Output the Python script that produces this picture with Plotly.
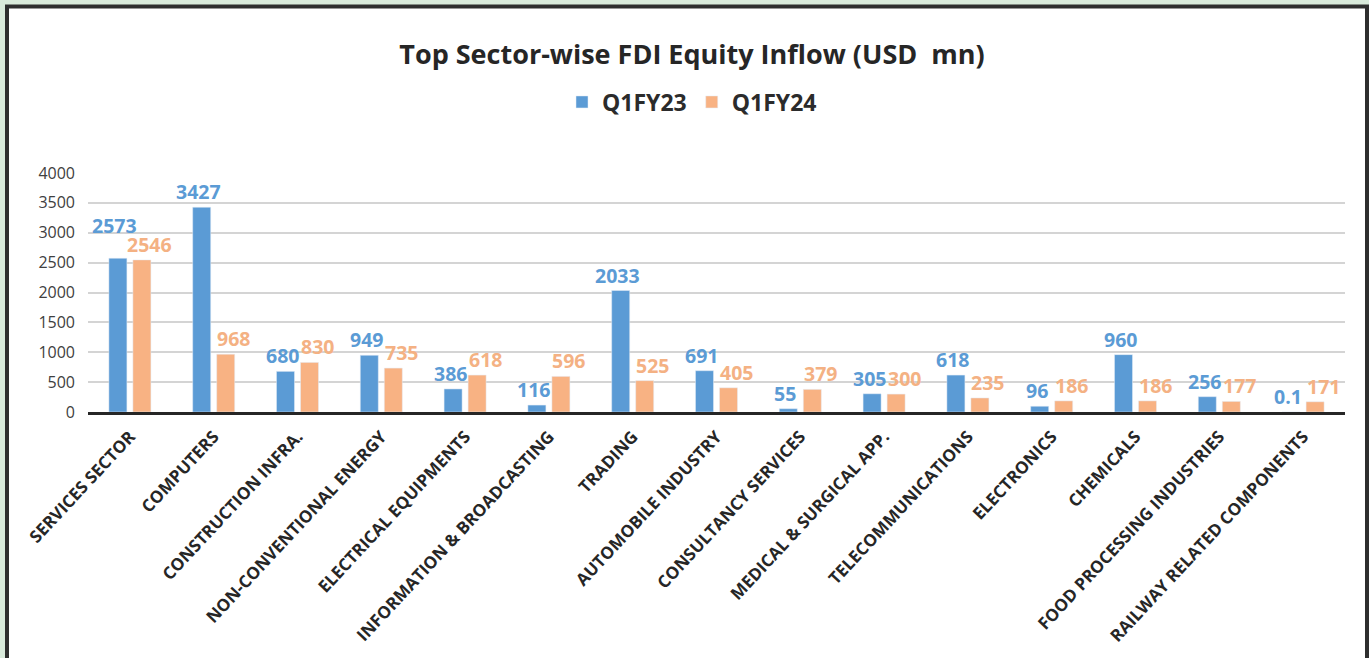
import plotly.graph_objects as go

categories = ["SERVICES SECTOR", "COMPUTERS", "CONSTRUCTION INFRA.", "NON-CONVENTIONAL ENERGY",
              "ELECTRICAL EQUIPMENTS", "INFORMATION & BROADCASTING", "TRADING", "AUTOMOBILE INDUSTRY",
              "CONSULTANCY SERVICES", "MEDICAL & SURGICAL APP.", "TELECOMMUNICATIONS", "ELECTRONICS",
              "CHEMICALS", "FOOD PROCESSING INDUSTRIES", "RAILWAY RELATED COMPONENTS"]
q1fy23 = [2573, 3427, 680, 949, 386, 116, 2033, 691, 55, 305, 618, 96, 960, 256, 0.1]
q1fy24 = [2546, 968, 830, 735, 618, 596, 525, 405, 379, 300, 235, 186, 186, 177, 171]
y_ticks = [0, 500, 1000, 1500, 2000, 2500, 3000, 3500, 4000]

BLUE = "#5b9bd5"
ORANGE = "#f8b283"
ORANGE_TXT = "#f4b183"
FONT = "Open Sans"

W, H = 1369, 658
L, R, T, B = 88, 24, 173, 246

def fmt(v):
    return "%g" % v

fig = go.Figure()
fig.add_trace(go.Bar(x=categories, y=q1fy23, name="Q1FY23", marker_color=BLUE))
fig.add_trace(go.Bar(x=categories, y=q1fy24, name="Q1FY24", marker_color=ORANGE))

# data labels (outside end, nudged apart as in the reference)
blue_raise = {0: 17}
for i, (c, v) in enumerate(zip(categories, q1fy23)):
    fig.add_annotation(x=c, y=v, text="<b>%s</b>" % fmt(v), showarrow=False,
                       xshift=-15, yshift=blue_raise.get(i, 0), yanchor="bottom",
                       font=dict(family=FONT, size=19.5, color=BLUE))
for c, v in zip(categories, q1fy24):
    fig.add_annotation(x=c, y=v, text="<b>%s</b>" % fmt(v), showarrow=False,
                       xshift=20, yshift=0, yanchor="bottom",
                       font=dict(family=FONT, size=19.5, color=ORANGE_TXT))

px = lambda p: (p - L) / (W - L - R)
py = lambda p: (H - B - p) / (H - T - B)

# outer frame
fig.add_shape(type="rect", xref="paper", yref="paper",
              x0=px(7), x1=px(1367), y0=py(670), y1=py(6.5),
              fillcolor="white", line=dict(color="#2e2e2e", width=4), layer="below")

fig.update_layout(
    width=W, height=H,
    margin=dict(l=L, r=R, t=T, b=B, pad=0),
    paper_bgcolor="#d9eadb", plot_bgcolor="rgba(0,0,0,0)",
    font=dict(family=FONT, color="#333333"),
    title=dict(text="<b>Top Sector-wise FDI Equity Inflow (USD  mn)</b>", x=px(692), xanchor="center",
               xref="paper", y=1 - 55 / H, yanchor="middle",
               font=dict(family=FONT, size=27, color="#262626")),
    legend=dict(orientation="h", x=px(692), xanchor="center", y=py(102), yanchor="middle",
                font=dict(family=FONT, size=23, color="#2b2b2b", weight="bold"),
                bgcolor="rgba(0,0,0,0)", itemwidth=30),
    barmode="group", bargap=0.427, bargroupgap=0.25,
    xaxis=dict(tickangle=-47, tickfont=dict(family=FONT, size=17, color="#262626", weight="bold"),
               showline=True, linecolor="#262626", linewidth=3, showgrid=False, ticks="",
               ticklabelstandoff=5),
    yaxis=dict(range=[0, 4000], tickvals=y_ticks, showgrid=True, gridcolor="#d4d4d4", gridwidth=1.5,
               zeroline=False, tickfont=dict(family=FONT, size=16, color="#404040"),
               ticklabelstandoff=12, ticks=""),
    showlegend=True,
)

fig.write_html("out.html", config={"displayModeBar": False},
               post_script="document.body.style.margin='0';")
